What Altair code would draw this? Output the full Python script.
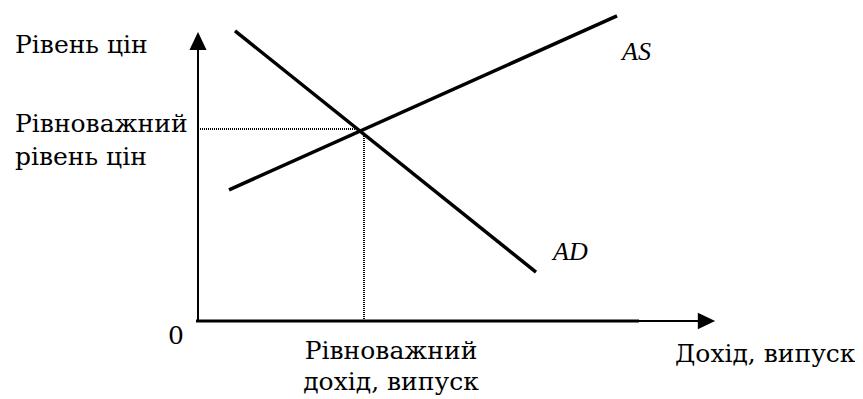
import altair as alt
import pandas as pd

# --- schematic data (abstract units: output on x, price level on y) ---
curve_names = ["AS", "AD"]
curve_x_start = [0.62, 0.74]
curve_y_start = [4.37, 9.67]
curve_x_end = [8.38, 6.76]
curve_y_end = [10.17, 1.63]

eq_output = 3.32
eq_price = 6.40

axis_x_max = 10.17
axis_y_max = 9.33

label_text = ["Рівень цін", "Рівноважний", "рівень цін", "0",
              "Рівноважний", "дохід, випуск", "Дохід, випуск"]
label_x = [-3.66, -3.66, -3.66, -0.44, 3.86, 3.86, 9.54]
label_y = [8.93, 6.30, 5.20, -0.77, -1.25, -2.30, -1.37]
label_align = ["left", "left", "left", "center", "center", "center", "left"]

curve_label_text = ["AS", "AD"]
curve_label_x = [8.48, 7.10]
curve_label_y = [8.70, 2.03]

FONT = "DejaVu Serif"
FS = 25

H = 388
xs = alt.Scale(domain=[-3.8, 13.14], nice=False, zero=False)
ys = alt.Scale(domain=[-(H - 313) / 30, 313 / 30], nice=False, zero=False)

curves = pd.DataFrame({"name": curve_names, "x": curve_x_start, "y": curve_y_start,
                       "x2": curve_x_end, "y2": curve_y_end})

base = alt.Chart(curves)

curve_layer = base.mark_rule(color="black", strokeWidth=3.5, strokeCap="butt").encode(
    x=alt.X("x:Q", scale=xs, axis=None),
    y=alt.Y("y:Q", scale=ys, axis=None),
    x2="x2:Q", y2="y2:Q")

# axes
yaxis = alt.Chart(pd.DataFrame({"x": [0.0], "y": [0.0], "y2": [axis_y_max - 0.1]})).mark_rule(
    color="black", strokeWidth=2).encode(
    x=alt.X("x:Q", scale=xs, axis=None), y=alt.Y("y:Q", scale=ys, axis=None), y2="y2:Q")

xaxis_thick = alt.Chart(pd.DataFrame({"x": [-0.04], "x2": [8.82], "y": [0.0]})).mark_rule(
    color="black", strokeWidth=3).encode(
    x=alt.X("x:Q", scale=xs, axis=None), x2="x2:Q", y=alt.Y("y:Q", scale=ys, axis=None))

xaxis_thin = alt.Chart(pd.DataFrame({"x": [8.82], "x2": [axis_x_max - 0.1], "y": [0.0]})).mark_rule(
    color="black", strokeWidth=2).encode(
    x=alt.X("x:Q", scale=xs, axis=None), x2="x2:Q", y=alt.Y("y:Q", scale=ys, axis=None))

arrow_up = alt.Chart(pd.DataFrame({"x": [0.0], "y": [axis_y_max]})).mark_point(
    shape="M0,-1L0.95,1L-0.95,1Z", filled=True, color="black", opacity=1, size=324).encode(
    x=alt.X("x:Q", scale=xs, axis=None), y=alt.Y("y:Q", scale=ys, axis=None))

arrow_right = alt.Chart(pd.DataFrame({"x": [axis_x_max], "y": [0.0]})).mark_point(
    shape="M-1,-0.95L1,0L-1,0.95Z", filled=True, color="black", opacity=1, size=300).encode(
    x=alt.X("x:Q", scale=xs, axis=None), y=alt.Y("y:Q", scale=ys, axis=None))

# equilibrium guides
hguide = alt.Chart(pd.DataFrame({"x": [0.04], "x2": [eq_output - 0.08], "y": [eq_price]})).mark_rule(
    color="black", strokeWidth=2, strokeDash=[1, 1]).encode(
    x=alt.X("x:Q", scale=xs, axis=None), x2="x2:Q", y=alt.Y("y:Q", scale=ys, axis=None))

vguide = alt.Chart(pd.DataFrame({"x": [eq_output], "y": [eq_price - 0.23], "y2": [0.0]})).mark_rule(
    color="black", strokeWidth=2, strokeDash=[1, 1]).encode(
    x=alt.X("x:Q", scale=xs, axis=None), y=alt.Y("y:Q", scale=ys, axis=None), y2="y2:Q")

labels = pd.DataFrame({"t": label_text, "x": label_x, "y": label_y, "a": label_align})
text_layers = []
for al in ["left", "center"]:
    sub = labels[labels["a"] == al]
    text_layers.append(
        alt.Chart(sub).mark_text(font=FONT, fontSize=FS, align=al, baseline="alphabetic",
                                 color="black").encode(
            x=alt.X("x:Q", scale=xs, axis=None), y=alt.Y("y:Q", scale=ys, axis=None), text="t:N"))

clabels = pd.DataFrame({"t": curve_label_text, "x": curve_label_x, "y": curve_label_y})
clabel_layer = alt.Chart(clabels).mark_text(font="Liberation Serif", fontSize=26, fontStyle="italic",
                                            align="left", baseline="alphabetic", color="black").encode(
    x=alt.X("x:Q", scale=xs, axis=None), y=alt.Y("y:Q", scale=ys, axis=None), text="t:N")

chart = alt.layer(curve_layer, yaxis, xaxis_thick, xaxis_thin, arrow_up, arrow_right,
                  hguide, vguide, *text_layers, clabel_layer).properties(
    width=847, height=H, padding=0,
    autosize=alt.AutoSizeParams(type="none"),
    background="white",
).configure_view(stroke=None)

chart.save("out.html", embed_options={"renderer": "svg", "actions": False})
